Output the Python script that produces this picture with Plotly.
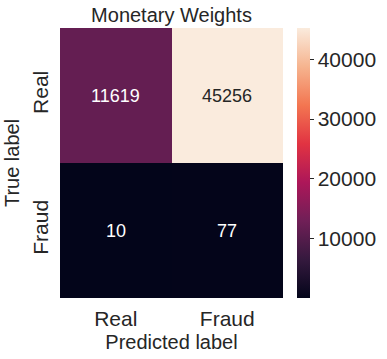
import plotly.graph_objects as go

categories = ["Real", "Fraud"]
values = [[11619, 45256],
          [10, 77]]
cbar_ticks = [10000, 20000, 30000, 40000]
title = "Monetary Weights"

rocket = [
    [0.0, "#03051a"],
    [0.143, "#35193e"],
    [0.286, "#701f57"],
    [0.429, "#ad1759"],
    [0.571, "#e13342"],
    [0.714, "#f37651"],
    [0.857, "#f6b48f"],
    [1.0, "#faebdd"],
]

zmin = min(min(r) for r in values)
zmax = max(max(r) for r in values)

fig = go.Figure(go.Heatmap(
    z=values, x=categories, y=categories,
    colorscale=rocket, zmin=zmin, zmax=zmax,
    xgap=0, ygap=0,
    colorbar=dict(
        xref="container", x=297 / 387, xanchor="left", xpad=0, ypad=0,
        thickness=13, len=1.0, lenmode="fraction", y=0.5, yanchor="middle",
        outlinewidth=0, ticks="outside", ticklen=4, tickcolor="#262626",
        tickvals=cbar_ticks, ticktext=[str(t) for t in cbar_ticks],
        tickfont=dict(size=21, color="#262626"),
    ),
    hoverinfo="skip",
))

anns = []
for i, row in enumerate(values):
    for j, v in enumerate(row):
        frac = (v - zmin) / (zmax - zmin)
        anns.append(dict(
            x=categories[j], y=categories[i], text=str(v), showarrow=False,
            font=dict(size=18, color="#262626" if frac > 0.6 else "white"),
        ))

fig.update_layout(
    width=387, height=359,
    margin=dict(l=60, r=104, t=28, b=61, autoexpand=False),
    paper_bgcolor="white", plot_bgcolor="white",
    font=dict(family="Liberation Sans, Arial, sans-serif", color="#262626"),
    title=dict(text=title, x=171.5 / 387, xanchor="center", y=1 - 15 / 359,
               yanchor="middle", font=dict(size=20, color="#262626")),
    annotations=anns,
    xaxis=dict(title=dict(text="Predicted label", font=dict(size=20), standoff=5),
               tickfont=dict(size=21), ticks="", ticklabelstandoff=6, automargin=False,
               showgrid=False, zeroline=False, showline=False),
    yaxis=dict(title=dict(text="True label", font=dict(size=20), standoff=3),
               tickfont=dict(size=21), ticks="", tickangle=-90, ticklabelstandoff=7,
               autorange="reversed", automargin=False,
               showgrid=False, zeroline=False, showline=False),
)

fig.write_html("out.html")
